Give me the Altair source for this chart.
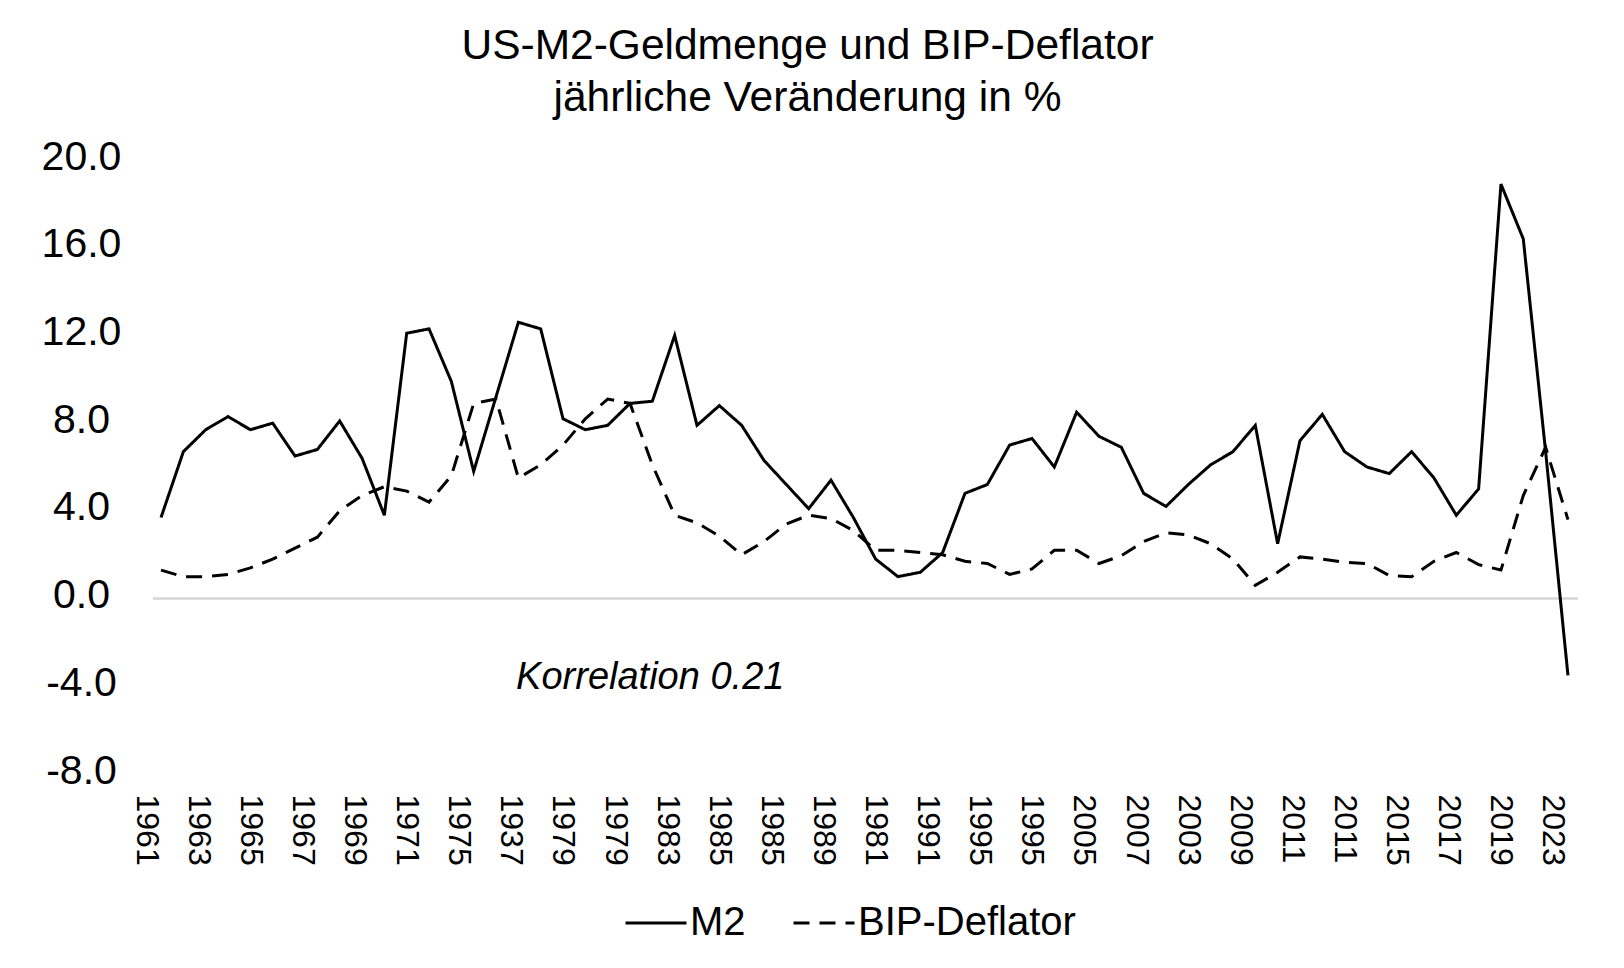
"""
US-M2-Geldmenge und BIP-Deflator, jährliche Veränderung in %.

Two yearly series as lines: M2 solid, BIP-Deflator dashed, with a light
zero line and a note on the correlation.
"""

import altair as alt
import pandas as pd

FONT = "Liberation Sans"

years = list(range(1961, 2025))

m2 = [
    3.7, 6.7, 7.7, 8.3, 7.7, 8.0, 6.5, 6.8, 8.1, 6.4,
    3.8, 12.1, 12.3, 9.9, 5.8, 9.2, 12.6, 12.3, 8.2, 7.7,
    7.9, 8.9, 9.0, 12.0, 7.9, 8.8, 7.9, 6.3, 5.2, 4.1,
    5.4, 3.7, 1.8, 1.0, 1.2, 2.1, 4.8, 5.2, 7.0, 7.3,
    6.0, 8.5, 7.4, 6.9, 4.8, 4.2, 5.2, 6.1, 6.7, 7.9,
    2.5, 7.2, 8.4, 6.7, 6.0, 5.7, 6.7, 5.5, 3.8, 5.0,
    18.9, 16.4, 6.7, -3.5,
]

bip_deflator = [
    1.3, 1.0, 1.0, 1.1, 1.4, 1.8, 2.3, 2.8, 4.0, 4.7,
    5.1, 4.9, 4.4, 5.6, 8.9, 9.1, 5.5, 6.1, 7.0, 8.2,
    9.1, 8.9, 6.1, 3.8, 3.45, 2.85, 2.0, 2.6, 3.4, 3.8,
    3.65, 3.1, 2.2, 2.2, 2.1, 2.0, 1.7, 1.6, 1.1, 1.35,
    2.2, 2.2, 1.6, 1.95, 2.6, 3.0, 2.9, 2.5, 1.8, 0.6,
    1.2, 1.9, 1.8, 1.65, 1.6, 1.05, 1.0, 1.7, 2.1, 1.55,
    1.3, 4.7, 6.9, 3.6,
]

# labels as printed under the chart, spread evenly over the years
tick_labels = [
    "1961", "1963", "1965", "1967", "1969", "1971", "1975", "1937",
    "1979", "1979", "1983", "1985", "1985", "1989", "1981", "1991",
    "1995", "1995", "2005", "2007", "2003", "2009", "2011", "2011",
    "2015", "2017", "2019", "2023",
]

y_ticks = [-8, -4, 0, 4, 8, 12, 16, 20]

series_names = ["M2", "BIP-Deflator"]
series_dashes = [[1, 0], [16, 10]]

note = ["Korrelation 0.21"]


def long_table() -> pd.DataFrame:
    rows = []
    for name, values in zip(series_names, (m2, bip_deflator)):
        for year, value in zip(years, values):
            rows.append({"jahr": year, "wert": value, "reihe": name})
    return pd.DataFrame(rows)


def build_chart(data: pd.DataFrame) -> alt.LayerChart:
    first, last = years[0], years[-1]
    n = len(tick_labels) - 1
    tick_values = [first + k * (last - first) / n for k in range(n + 1)]
    label_expr = f"{tick_labels}[round((datum.value - {first}) * {n} / {last - first})]"

    x_scale = alt.Scale(domain=[1960.64, 2024.45], nice=False, zero=False)
    y_scale = alt.Scale(domain=[-8, 20], nice=False, zero=False)

    x_axis = alt.Axis(
        values=tick_values,
        labelExpr=label_expr,
        labelAngle=90,
        labelOffset=-15,
        labelPadding=20,
        labelFont=FONT,
        labelFontSize=32,
        labelColor="black",
        labelFlush=False,
        labelOverlap=False,
        ticks=False,
        tickSize=0,
        domain=False,
        grid=False,
    )
    # plain hyphen for negatives, as in the original
    y_axis = alt.Axis(
        values=y_ticks,
        labelExpr="replace(format(datum.value, '.1f'), '\u2212', '-')",
        labelAlign="center",
        labelPadding=72,
        labelOffset=-3,
        labelFont=FONT,
        labelFontSize=41,
        labelColor="black",
        ticks=False,
        tickSize=0,
        domain=False,
        grid=False,
    )

    zero_line = (
        alt.Chart(pd.DataFrame({"null": [0]}))
        .mark_rule(color="#d6d6d6", strokeWidth=2.5)
        .encode(y=alt.Y("null:Q", scale=y_scale, axis=y_axis, title=None))
    )

    lines = (
        alt.Chart(data)
        .mark_line(color="black", strokeWidth=3)
        .encode(
            x=alt.X("jahr:Q", scale=x_scale, axis=x_axis, title=None),
            y=alt.Y("wert:Q", scale=y_scale, axis=y_axis, title=None),
            strokeDash=alt.StrokeDash(
                "reihe:N",
                sort=series_names,
                scale=alt.Scale(domain=series_names, range=series_dashes),
                legend=alt.Legend(
                    title=None,
                    orient="none",
                    legendX=471,
                    legendY=731,
                    direction="horizontal",
                    symbolType="stroke",
                    symbolSize=3721,
                    symbolStrokeWidth=3,
                    symbolStrokeColor="black",
                    labelFont=FONT,
                    labelFontSize=40,
                    labelColor="black",
                    labelOffset=2,
                    labelLimit=400,
                    columnPadding=41,
                    padding=0,
                ),
            ),
        )
    )

    korrelation = (
        alt.Chart(pd.DataFrame({"text": note}))
        .mark_text(
            align="left",
            baseline="middle",
            font=FONT,
            fontSize=38,
            fontStyle="italic",
            color="black",
        )
        .encode(
            x=alt.XDatum(1976.9, title=None),
            y=alt.YDatum(-3.6, title=None),
            text="text:N",
        )
    )

    return (
        alt.layer(zero_line, lines, korrelation)
        .properties(
            width=1425,
            height=614,
            autosize=alt.AutoSizeParams(type="none"),
            padding={"left": 145, "top": 152, "right": 30, "bottom": 180},
            background="white",
            title=alt.TitleParams(
                text=["US-M2-Geldmenge und BIP-Deflator", "jährliche Veränderung in %"],
                font=FONT,
                fontSize=42.5,
                fontWeight="normal",
                color="black",
                anchor="middle",
                frame="group",
                dx=-58,
                offset=17,
                lineHeight=52,
            ),
        )
        .configure_view(stroke=None)
    )


chart = build_chart(long_table())
chart.save("out.html", embed_options={"renderer": "svg", "actions": False})
